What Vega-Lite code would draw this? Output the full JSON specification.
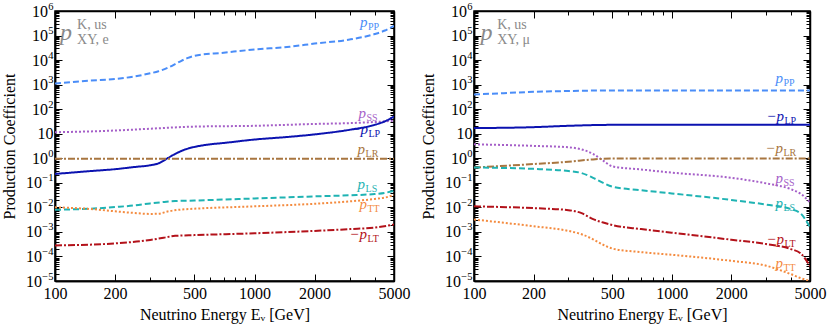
{
  "$schema": "https://vega.github.io/schema/vega-lite/v6.json",
  "background": "white",
  "padding": {"left": 0, "top": 0, "right": 0, "bottom": 5},
  "datasets": {
    "lines": [
      {"p":"e","k":"PP","E":100,"v":1100},{"p":"e","k":"PP","E":150,"v":1450},{"p":"e","k":"PP","E":200,"v":1700},{"p":"e","k":"PP","E":250,"v":2150},{"p":"e","k":"PP","E":300,"v":2900},{"p":"e","k":"PP","E":330,"v":3500},{"p":"e","k":"PP","E":370,"v":5000},{"p":"e","k":"PP","E":420,"v":8500},{"p":"e","k":"PP","E":460,"v":12000},{"p":"e","k":"PP","E":500,"v":15000},{"p":"e","k":"PP","E":700,"v":20000},{"p":"e","k":"PP","E":1000,"v":27000},{"p":"e","k":"PP","E":1500,"v":35000},{"p":"e","k":"PP","E":2000,"v":47000},{"p":"e","k":"PP","E":3000,"v":69000},{"p":"e","k":"PP","E":4000,"v":115000},{"p":"e","k":"PP","E":4500,"v":160000},{"p":"e","k":"PP","E":5000,"v":250000},
      {"p":"e","k":"SS","E":100,"v":11.5},{"p":"e","k":"SS","E":200,"v":13.5},{"p":"e","k":"SS","E":300,"v":16},{"p":"e","k":"SS","E":500,"v":19.5},{"p":"e","k":"SS","E":1000,"v":21},{"p":"e","k":"SS","E":2000,"v":25},{"p":"e","k":"SS","E":3000,"v":27},{"p":"e","k":"SS","E":4000,"v":30},{"p":"e","k":"SS","E":5000,"v":34},
      {"p":"e","k":"LP","E":100,"v":0.23},{"p":"e","k":"LP","E":150,"v":0.3},{"p":"e","k":"LP","E":200,"v":0.36},{"p":"e","k":"LP","E":250,"v":0.44},{"p":"e","k":"LP","E":300,"v":0.52},{"p":"e","k":"LP","E":330,"v":0.62},{"p":"e","k":"LP","E":370,"v":1.05},{"p":"e","k":"LP","E":400,"v":1.5},{"p":"e","k":"LP","E":450,"v":2.3},{"p":"e","k":"LP","E":500,"v":2.9},{"p":"e","k":"LP","E":600,"v":3.7},{"p":"e","k":"LP","E":700,"v":4.2},{"p":"e","k":"LP","E":1000,"v":5.8},{"p":"e","k":"LP","E":1500,"v":7.5},{"p":"e","k":"LP","E":2000,"v":9.4},{"p":"e","k":"LP","E":3000,"v":14.5},{"p":"e","k":"LP","E":4000,"v":23},{"p":"e","k":"LP","E":4500,"v":32},{"p":"e","k":"LP","E":5000,"v":50},
      {"p":"e","k":"LR","E":100,"v":0.95},{"p":"e","k":"LR","E":1000,"v":0.95},{"p":"e","k":"LR","E":5000,"v":0.95},
      {"p":"e","k":"LS","E":100,"v":0.008},{"p":"e","k":"LS","E":150,"v":0.0088},{"p":"e","k":"LS","E":200,"v":0.0103},{"p":"e","k":"LS","E":250,"v":0.012},{"p":"e","k":"LS","E":300,"v":0.0145},{"p":"e","k":"LS","E":350,"v":0.0165},{"p":"e","k":"LS","E":400,"v":0.018},{"p":"e","k":"LS","E":500,"v":0.019},{"p":"e","k":"LS","E":1000,"v":0.023},{"p":"e","k":"LS","E":2000,"v":0.028},{"p":"e","k":"LS","E":3000,"v":0.031},{"p":"e","k":"LS","E":4000,"v":0.035},{"p":"e","k":"LS","E":4500,"v":0.039},{"p":"e","k":"LS","E":5000,"v":0.047},
      {"p":"e","k":"TT","E":100,"v":0.01},{"p":"e","k":"TT","E":150,"v":0.0086},{"p":"e","k":"TT","E":200,"v":0.0069},{"p":"e","k":"TT","E":250,"v":0.0059},{"p":"e","k":"TT","E":300,"v":0.0054},{"p":"e","k":"TT","E":330,"v":0.0055},{"p":"e","k":"TT","E":370,"v":0.0069},{"p":"e","k":"TT","E":420,"v":0.008},{"p":"e","k":"TT","E":500,"v":0.0088},{"p":"e","k":"TT","E":1000,"v":0.011},{"p":"e","k":"TT","E":2000,"v":0.014},{"p":"e","k":"TT","E":3000,"v":0.0175},{"p":"e","k":"TT","E":4000,"v":0.022},{"p":"e","k":"TT","E":4500,"v":0.025},{"p":"e","k":"TT","E":5000,"v":0.032},
      {"p":"e","k":"LT","E":100,"v":0.00028},{"p":"e","k":"LT","E":200,"v":0.00034},{"p":"e","k":"LT","E":300,"v":0.00047},{"p":"e","k":"LT","E":350,"v":0.00058},{"p":"e","k":"LT","E":400,"v":0.00069},{"p":"e","k":"LT","E":500,"v":0.00074},{"p":"e","k":"LT","E":1000,"v":0.00088},{"p":"e","k":"LT","E":2000,"v":0.0011},{"p":"e","k":"LT","E":3000,"v":0.0013},{"p":"e","k":"LT","E":4000,"v":0.0015},{"p":"e","k":"LT","E":5000,"v":0.002},
      {"p":"mu","k":"PP","E":100,"v":400},{"p":"mu","k":"PP","E":150,"v":460},{"p":"mu","k":"PP","E":200,"v":510},{"p":"mu","k":"PP","E":300,"v":550},{"p":"mu","k":"PP","E":500,"v":580},{"p":"mu","k":"PP","E":1000,"v":580},{"p":"mu","k":"PP","E":2000,"v":575},{"p":"mu","k":"PP","E":5000,"v":575},
      {"p":"mu","k":"LP","E":100,"v":17},{"p":"mu","k":"LP","E":200,"v":18.5},{"p":"mu","k":"LP","E":300,"v":21},{"p":"mu","k":"LP","E":500,"v":23},{"p":"mu","k":"LP","E":1000,"v":23},{"p":"mu","k":"LP","E":2000,"v":23},{"p":"mu","k":"LP","E":5000,"v":23},
      {"p":"mu","k":"SS","E":100,"v":3.7},{"p":"mu","k":"SS","E":200,"v":3.2},{"p":"mu","k":"SS","E":300,"v":2.8},{"p":"mu","k":"SS","E":350,"v":2.3},{"p":"mu","k":"SS","E":400,"v":1.5},{"p":"mu","k":"SS","E":450,"v":0.8},{"p":"mu","k":"SS","E":500,"v":0.47},{"p":"mu","k":"SS","E":700,"v":0.35},{"p":"mu","k":"SS","E":1000,"v":0.26},{"p":"mu","k":"SS","E":2000,"v":0.16},{"p":"mu","k":"SS","E":3000,"v":0.095},{"p":"mu","k":"SS","E":4000,"v":0.055},{"p":"mu","k":"SS","E":4500,"v":0.035},{"p":"mu","k":"SS","E":5000,"v":0.016},
      {"p":"mu","k":"LR","E":100,"v":0.42},{"p":"mu","k":"LR","E":200,"v":0.58},{"p":"mu","k":"LR","E":300,"v":0.72},{"p":"mu","k":"LR","E":400,"v":0.9},{"p":"mu","k":"LR","E":500,"v":0.97},{"p":"mu","k":"LR","E":1000,"v":0.97},{"p":"mu","k":"LR","E":5000,"v":0.97},
      {"p":"mu","k":"LS","E":100,"v":0.42},{"p":"mu","k":"LS","E":200,"v":0.37},{"p":"mu","k":"LS","E":300,"v":0.3},{"p":"mu","k":"LS","E":350,"v":0.25},{"p":"mu","k":"LS","E":400,"v":0.16},{"p":"mu","k":"LS","E":450,"v":0.1},{"p":"mu","k":"LS","E":500,"v":0.07},{"p":"mu","k":"LS","E":700,"v":0.05},{"p":"mu","k":"LS","E":1000,"v":0.037},{"p":"mu","k":"LS","E":2000,"v":0.02},{"p":"mu","k":"LS","E":3000,"v":0.013},{"p":"mu","k":"LS","E":4000,"v":0.0085},{"p":"mu","k":"LS","E":4500,"v":0.0055},{"p":"mu","k":"LS","E":5000,"v":0.0015},
      {"p":"mu","k":"LT","E":100,"v":0.011},{"p":"mu","k":"LT","E":200,"v":0.0093},{"p":"mu","k":"LT","E":300,"v":0.0077},{"p":"mu","k":"LT","E":350,"v":0.0058},{"p":"mu","k":"LT","E":400,"v":0.0033},{"p":"mu","k":"LT","E":450,"v":0.0024},{"p":"mu","k":"LT","E":500,"v":0.0019},{"p":"mu","k":"LT","E":700,"v":0.0013},{"p":"mu","k":"LT","E":1000,"v":0.00093},{"p":"mu","k":"LT","E":2000,"v":0.00048},{"p":"mu","k":"LT","E":3000,"v":0.00032},{"p":"mu","k":"LT","E":4000,"v":0.0002},{"p":"mu","k":"LT","E":4500,"v":0.00013},{"p":"mu","k":"LT","E":5000,"v":0.00004},
      {"p":"mu","k":"TT","E":100,"v":0.0032},{"p":"mu","k":"TT","E":200,"v":0.0017},{"p":"mu","k":"TT","E":300,"v":0.0011},{"p":"mu","k":"TT","E":350,"v":0.0008},{"p":"mu","k":"TT","E":400,"v":0.0005},{"p":"mu","k":"TT","E":450,"v":0.0003},{"p":"mu","k":"TT","E":500,"v":0.00021},{"p":"mu","k":"TT","E":700,"v":0.00015},{"p":"mu","k":"TT","E":1000,"v":0.000117},{"p":"mu","k":"TT","E":2000,"v":0.000066},{"p":"mu","k":"TT","E":3000,"v":0.000042},{"p":"mu","k":"TT","E":4000,"v":0.000019},{"p":"mu","k":"TT","E":4500,"v":0.000013},{"p":"mu","k":"TT","E":5000,"v":0.00001}
    ],
    "labels": [
      {"p":"e","k":"PP","E":3680,"v":216000,"pre":"p","sub":"PP"},
      {"p":"e","k":"SS","E":3620,"v":45.8,"pre":"p","sub":"SS"},
      {"p":"e","k":"LP","E":3700,"v":9.55,"pre":"−p","sub":"LP"},
      {"p":"e","k":"LR","E":3580,"v":1.56,"pre":"p","sub":"LR"},
      {"p":"e","k":"LS","E":3580,"v":0.058,"pre":"p","sub":"LS"},
      {"p":"e","k":"TT","E":3660,"v":0.00885,"pre":"p","sub":"TT"},
      {"p":"e","k":"LT","E":3660,"v":0.000527,"pre":"−p","sub":"LT"},
      {"p":"mu","k":"PP","E":3650,"v":1186,"pre":"p","sub":"PP"},
      {"p":"mu","k":"LP","E":3690,"v":33.3,"pre":"−p","sub":"LP"},
      {"p":"mu","k":"LR","E":3650,"v":1.64,"pre":"−p","sub":"LR"},
      {"p":"mu","k":"SS","E":3650,"v":0.0955,"pre":"p","sub":"SS"},
      {"p":"mu","k":"LS","E":3650,"v":0.00977,"pre":"p","sub":"LS"},
      {"p":"mu","k":"LT","E":3690,"v":0.000331,"pre":"−p","sub":"LT"},
      {"p":"mu","k":"TT","E":3650,"v":0.0000347,"pre":"p","sub":"TT"}
    ],
    "notes": [
      {"p":"e","role":"main","E":106,"v":65000,"t":"p"},
      {"p":"e","role":"small","E":129,"v":180000,"t":"K, us"},
      {"p":"e","role":"small","E":129,"v":44000,"t":"XY, e"},
      {"p":"mu","role":"main","E":108,"v":65000,"t":"p"},
      {"p":"mu","role":"small","E":131,"v":180000,"t":"K, us"},
      {"p":"mu","role":"small","E":131,"v":44000,"t":"XY, μ"}
    ]
  },
  "hconcat": [
    {
      "width": 339, "height": 270,
      "layer": [
        {
          "data": {"name": "lines"},
          "transform": [{"filter": "datum.p == 'e'"}],
          "mark": {"type": "line", "strokeWidth": 2, "clip": true, "interpolate": "monotone"},
          "encoding": {
            "x": {"field": "E", "type": "quantitative", "scale": {"type": "log", "domain": [100, 5000], "nice": false},
              "axis": {"orient": "bottom", "title": "Neutrino Energy Eᵥ [GeV]", "values": [100,200,500,1000,2000,5000], "format": "d",
                "ticks": false, "grid": false, "labelPadding": 4, "titlePadding": 5}},
            "y": {"field": "v", "type": "quantitative", "scale": {"type": "log", "domain": [0.00001, 1000000], "nice": false},
              "axis": {"orient": "left", "title": null, "values": [1,100,1000,10000,100000,1000000], "labelExpr": "'10'",
                "ticks": false, "grid": false, "labelPadding": 7.5}},
            "color": {"field": "k", "type": "nominal", "scale": {"domain": ["PP","SS","LP","LR","LS","TT","LT"], "range": ["#4a8df8","#a55fc8","#0b12b0","#a87640","#1fb3b3","#f48b3f","#b3121a"]}, "legend": null},
            "strokeDash": {"field": "k", "type": "nominal", "scale": {"domain": ["PP","SS","LP","LR","LS","TT","LT"], "range": [[6,3],[2,2],[1,0],[7,2,2,2],[6,3],[2,2],[7,2,2,2]]}, "legend": null}
          }
        },
        {
          "data": {"name": "labels"},
          "transform": [{"filter": "datum.p == 'e'"}],
          "mark": {"type": "text", "align": "right", "baseline": "alphabetic", "font": "Liberation Serif", "fontStyle": "italic", "fontSize": 15},
          "encoding": {
            "x": {"field": "E", "type": "quantitative", "scale": {"type": "log"},
              "axis": {"orient": "top", "title": null, "labels": false, "grid": false, "values": [100,200,300,400,500,600,700,800,900,1000,2000,3000,4000,5000],
                "tickSize": {"condition": {"test": "indexof([100,200,500,1000,2000,5000], datum.value) >= 0", "value": -7}, "value": -4}}},
            "y": {"field": "v", "type": "quantitative", "scale": {"type": "log"},
              "axis": {"orient": "right", "title": null, "labels": false, "grid": false,
                "values": [0.00001,0.00002,0.00003,0.00004,0.00005,0.00006,0.00007,0.00008,0.00009,0.0001,0.0002,0.0003,0.0004,0.0005,0.0006,0.0007,0.0008,0.0009,0.001,0.002,0.003,0.004,0.005,0.006,0.007,0.008,0.009,0.01,0.02,0.03,0.04,0.05,0.06,0.07,0.08,0.09,0.1,0.2,0.3,0.4,0.5,0.6,0.7,0.8,0.9,1,2,3,4,5,6,7,8,9,10,20,30,40,50,60,70,80,90,100,200,300,400,500,600,700,800,900,1000,2000,3000,4000,5000,6000,7000,8000,9000,10000,20000,30000,40000,50000,60000,70000,80000,90000,100000,200000,300000,400000,500000,600000,700000,800000,900000,1000000],
                "tickSize": {"condition": {"test": "abs(log(datum.value)/LN10 - round(log(datum.value)/LN10)) < 0.001", "value": -7}, "value": -4}}},
            "text": {"field": "pre"},
            "color": {"field": "k", "type": "nominal", "scale": {"domain": ["PP","SS","LP","LR","LS","TT","LT"], "range": ["#4a8df8","#a55fc8","#0b12b0","#a87640","#1fb3b3","#f48b3f","#b3121a"]}, "legend": null}
          }
        },
        {
          "data": {"name": "labels"},
          "transform": [{"filter": "datum.p == 'e'"}],
          "mark": {"type": "text", "align": "left", "baseline": "alphabetic", "font": "Liberation Serif", "fontSize": 10, "dy": 3, "dx": 0.5},
          "encoding": {
            "x": {"field": "E", "type": "quantitative", "scale": {"type": "log"},
              "axis": {"orient": "bottom", "title": null, "labels": false, "values": [100,200,300,400,500,600,700,800,900,1000,2000,3000,4000,5000],
                "tickSize": {"condition": {"test": "indexof([100,200,500,1000,2000,5000], datum.value) >= 0", "value": -7}, "value": -4},
                "gridOpacity": {"condition": {"test": "indexof([100,200,500,1000,2000,5000], datum.value) >= 0", "value": 1}, "value": 0}}},
            "y": {"field": "v", "type": "quantitative", "scale": {"type": "log"},
              "axis": {"orient": "left", "title": null, "labels": false,
                "values": [0.00001,0.00002,0.00003,0.00004,0.00005,0.00006,0.00007,0.00008,0.00009,0.0001,0.0002,0.0003,0.0004,0.0005,0.0006,0.0007,0.0008,0.0009,0.001,0.002,0.003,0.004,0.005,0.006,0.007,0.008,0.009,0.01,0.02,0.03,0.04,0.05,0.06,0.07,0.08,0.09,0.1,0.2,0.3,0.4,0.5,0.6,0.7,0.8,0.9,1,2,3,4,5,6,7,8,9,10,20,30,40,50,60,70,80,90,100,200,300,400,500,600,700,800,900,1000,2000,3000,4000,5000,6000,7000,8000,9000,10000,20000,30000,40000,50000,60000,70000,80000,90000,100000,200000,300000,400000,500000,600000,700000,800000,900000,1000000],
                "tickSize": {"condition": {"test": "abs(log(datum.value)/LN10 - round(log(datum.value)/LN10)) < 0.001", "value": -7}, "value": -4},
                "gridOpacity": {"condition": {"test": "abs(log(datum.value)/LN10 - round(log(datum.value)/LN10)) < 0.001", "value": 1}, "value": 0}}},
            "text": {"field": "sub"},
            "color": {"field": "k", "type": "nominal", "scale": {"domain": ["PP","SS","LP","LR","LS","TT","LT"], "range": ["#4a8df8","#a55fc8","#0b12b0","#a87640","#1fb3b3","#f48b3f","#b3121a"]}, "legend": null}
          }
        },
        {
          "data": {"name": "notes"},
          "transform": [{"filter": "datum.p == 'e' && datum.role == 'main'"}],
          "mark": {"type": "text", "align": "left", "baseline": "alphabetic", "font": "Liberation Serif", "fontStyle": "italic", "fontSize": 24, "color": "#8a8a8a"},
          "encoding": {
            "x": {"field": "E", "type": "quantitative", "scale": {"type": "log"}, "axis": null},
            "y": {"field": "v", "type": "quantitative", "scale": {"type": "log"},
              "axis": {"orient": "left", "title": "Production Coefficient", "values": [0.00001,0.0001,0.001,0.01,0.1], "labelExpr": "'10'",
                "ticks": false, "grid": false, "domain": false, "labelPadding": 13.5, "titlePadding": 8}},
            "text": {"field": "t"}
          }
        },
        {
          "data": {"name": "notes"},
          "transform": [{"filter": "datum.p == 'e' && datum.role == 'small'"}],
          "mark": {"type": "text", "align": "left", "baseline": "alphabetic", "font": "Liberation Serif", "fontSize": 14, "color": "#8a8a8a"},
          "encoding": {
            "x": {"field": "E", "type": "quantitative", "scale": {"type": "log"}, "axis": null},
            "y": {"field": "v", "type": "quantitative", "scale": {"type": "log"},
              "axis": {"orient": "left", "title": null, "values": [10], "labelExpr": "'10'",
                "ticks": false, "grid": false, "domain": false, "labelPadding": 2}},
            "text": {"field": "t"}
          }
        },
        {
          "data": {"name": "notes"},
          "transform": [{"filter": "datum.p == 'e'"}],
          "mark": {"type": "point", "opacity": 0},
          "encoding": {
            "x": {"field": "E", "type": "quantitative", "scale": {"type": "log"}, "axis": null},
            "y": {"field": "v", "type": "quantitative", "scale": {"type": "log"},
              "axis": {"orient": "left", "title": null, "values": [0.00001,0.0001,0.001,0.01,0.1,1,100,1000,10000,100000,1000000],
                "labelExpr": "(datum.value < 1 ? '−' : '') + format(abs(round(log(datum.value)/LN10)), 'd')",
                "labelFontSize": 10.5, "labelOffset": -5, "ticks": false, "grid": false, "domain": false, "labelPadding": 2}}
          }
        }
      ],
      "resolve": {"axis": {"x": "independent", "y": "independent"}}
    },
    {
      "width": 336, "height": 270,
      "layer": [
        {
          "data": {"name": "lines"},
          "transform": [{"filter": "datum.p == 'mu'"}],
          "mark": {"type": "line", "strokeWidth": 2, "clip": true, "interpolate": "monotone"},
          "encoding": {
            "x": {"field": "E", "type": "quantitative", "scale": {"type": "log", "domain": [100, 5000], "nice": false},
              "axis": {"orient": "bottom", "title": "Neutrino Energy Eᵥ [GeV]", "values": [100,200,500,1000,2000,5000], "format": "d",
                "ticks": false, "grid": false, "labelPadding": 4, "titlePadding": 5}},
            "y": {"field": "v", "type": "quantitative", "scale": {"type": "log", "domain": [0.00001, 1000000], "nice": false},
              "axis": {"orient": "left", "title": null, "values": [1,100,1000,10000,100000,1000000], "labelExpr": "'10'",
                "ticks": false, "grid": false, "labelPadding": 7.5}},
            "color": {"field": "k", "type": "nominal", "scale": {"domain": ["PP","SS","LP","LR","LS","TT","LT"], "range": ["#4a8df8","#a55fc8","#0b12b0","#a87640","#1fb3b3","#f48b3f","#b3121a"]}, "legend": null},
            "strokeDash": {"field": "k", "type": "nominal", "scale": {"domain": ["PP","SS","LP","LR","LS","TT","LT"], "range": [[6,3],[2,2],[1,0],[7,2,2,2],[6,3],[2,2],[7,2,2,2]]}, "legend": null}
          }
        },
        {
          "data": {"name": "labels"},
          "transform": [{"filter": "datum.p == 'mu'"}],
          "mark": {"type": "text", "align": "right", "baseline": "alphabetic", "font": "Liberation Serif", "fontStyle": "italic", "fontSize": 15},
          "encoding": {
            "x": {"field": "E", "type": "quantitative", "scale": {"type": "log"},
              "axis": {"orient": "top", "title": null, "labels": false, "grid": false, "values": [100,200,300,400,500,600,700,800,900,1000,2000,3000,4000,5000],
                "tickSize": {"condition": {"test": "indexof([100,200,500,1000,2000,5000], datum.value) >= 0", "value": -7}, "value": -4}}},
            "y": {"field": "v", "type": "quantitative", "scale": {"type": "log"},
              "axis": {"orient": "right", "title": null, "labels": false, "grid": false,
                "values": [0.00001,0.00002,0.00003,0.00004,0.00005,0.00006,0.00007,0.00008,0.00009,0.0001,0.0002,0.0003,0.0004,0.0005,0.0006,0.0007,0.0008,0.0009,0.001,0.002,0.003,0.004,0.005,0.006,0.007,0.008,0.009,0.01,0.02,0.03,0.04,0.05,0.06,0.07,0.08,0.09,0.1,0.2,0.3,0.4,0.5,0.6,0.7,0.8,0.9,1,2,3,4,5,6,7,8,9,10,20,30,40,50,60,70,80,90,100,200,300,400,500,600,700,800,900,1000,2000,3000,4000,5000,6000,7000,8000,9000,10000,20000,30000,40000,50000,60000,70000,80000,90000,100000,200000,300000,400000,500000,600000,700000,800000,900000,1000000],
                "tickSize": {"condition": {"test": "abs(log(datum.value)/LN10 - round(log(datum.value)/LN10)) < 0.001", "value": -7}, "value": -4}}},
            "text": {"field": "pre"},
            "color": {"field": "k", "type": "nominal", "scale": {"domain": ["PP","SS","LP","LR","LS","TT","LT"], "range": ["#4a8df8","#a55fc8","#0b12b0","#a87640","#1fb3b3","#f48b3f","#b3121a"]}, "legend": null}
          }
        },
        {
          "data": {"name": "labels"},
          "transform": [{"filter": "datum.p == 'mu'"}],
          "mark": {"type": "text", "align": "left", "baseline": "alphabetic", "font": "Liberation Serif", "fontSize": 10, "dy": 3, "dx": 0.5},
          "encoding": {
            "x": {"field": "E", "type": "quantitative", "scale": {"type": "log"},
              "axis": {"orient": "bottom", "title": null, "labels": false, "values": [100,200,300,400,500,600,700,800,900,1000,2000,3000,4000,5000],
                "tickSize": {"condition": {"test": "indexof([100,200,500,1000,2000,5000], datum.value) >= 0", "value": -7}, "value": -4},
                "gridOpacity": {"condition": {"test": "indexof([100,200,500,1000,2000,5000], datum.value) >= 0", "value": 1}, "value": 0}}},
            "y": {"field": "v", "type": "quantitative", "scale": {"type": "log"},
              "axis": {"orient": "left", "title": null, "labels": false,
                "values": [0.00001,0.00002,0.00003,0.00004,0.00005,0.00006,0.00007,0.00008,0.00009,0.0001,0.0002,0.0003,0.0004,0.0005,0.0006,0.0007,0.0008,0.0009,0.001,0.002,0.003,0.004,0.005,0.006,0.007,0.008,0.009,0.01,0.02,0.03,0.04,0.05,0.06,0.07,0.08,0.09,0.1,0.2,0.3,0.4,0.5,0.6,0.7,0.8,0.9,1,2,3,4,5,6,7,8,9,10,20,30,40,50,60,70,80,90,100,200,300,400,500,600,700,800,900,1000,2000,3000,4000,5000,6000,7000,8000,9000,10000,20000,30000,40000,50000,60000,70000,80000,90000,100000,200000,300000,400000,500000,600000,700000,800000,900000,1000000],
                "tickSize": {"condition": {"test": "abs(log(datum.value)/LN10 - round(log(datum.value)/LN10)) < 0.001", "value": -7}, "value": -4},
                "gridOpacity": {"condition": {"test": "abs(log(datum.value)/LN10 - round(log(datum.value)/LN10)) < 0.001", "value": 1}, "value": 0}}},
            "text": {"field": "sub"},
            "color": {"field": "k", "type": "nominal", "scale": {"domain": ["PP","SS","LP","LR","LS","TT","LT"], "range": ["#4a8df8","#a55fc8","#0b12b0","#a87640","#1fb3b3","#f48b3f","#b3121a"]}, "legend": null}
          }
        },
        {
          "data": {"name": "notes"},
          "transform": [{"filter": "datum.p == 'mu' && datum.role == 'main'"}],
          "mark": {"type": "text", "align": "left", "baseline": "alphabetic", "font": "Liberation Serif", "fontStyle": "italic", "fontSize": 24, "color": "#8a8a8a"},
          "encoding": {
            "x": {"field": "E", "type": "quantitative", "scale": {"type": "log"}, "axis": null},
            "y": {"field": "v", "type": "quantitative", "scale": {"type": "log"},
              "axis": {"orient": "left", "title": "Production Coefficient", "values": [0.00001,0.0001,0.001,0.01,0.1], "labelExpr": "'10'",
                "ticks": false, "grid": false, "domain": false, "labelPadding": 13.5, "titlePadding": 8}},
            "text": {"field": "t"}
          }
        },
        {
          "data": {"name": "notes"},
          "transform": [{"filter": "datum.p == 'mu' && datum.role == 'small'"}],
          "mark": {"type": "text", "align": "left", "baseline": "alphabetic", "font": "Liberation Serif", "fontSize": 14, "color": "#8a8a8a"},
          "encoding": {
            "x": {"field": "E", "type": "quantitative", "scale": {"type": "log"}, "axis": null},
            "y": {"field": "v", "type": "quantitative", "scale": {"type": "log"},
              "axis": {"orient": "left", "title": null, "values": [10], "labelExpr": "'10'",
                "ticks": false, "grid": false, "domain": false, "labelPadding": 2}},
            "text": {"field": "t"}
          }
        },
        {
          "data": {"name": "notes"},
          "transform": [{"filter": "datum.p == 'mu'"}],
          "mark": {"type": "point", "opacity": 0},
          "encoding": {
            "x": {"field": "E", "type": "quantitative", "scale": {"type": "log"}, "axis": null},
            "y": {"field": "v", "type": "quantitative", "scale": {"type": "log"},
              "axis": {"orient": "left", "title": null, "values": [0.00001,0.0001,0.001,0.01,0.1,1,100,1000,10000,100000,1000000],
                "labelExpr": "(datum.value < 1 ? '−' : '') + format(abs(round(log(datum.value)/LN10)), 'd')",
                "labelFontSize": 10.5, "labelOffset": -5, "ticks": false, "grid": false, "domain": false, "labelPadding": 2}}
          }
        }
      ],
      "resolve": {"axis": {"x": "independent", "y": "independent"}}
    }
  ],
  "spacing": 8,
  "config": {
    "font": "Liberation Serif",
    "view": {"stroke": "black", "strokeWidth": 1.5},
    "axis": {
      "labelFont": "Liberation Serif", "titleFont": "Liberation Serif",
      "labelFontSize": 16, "titleFontSize": 16, "titleFontWeight": "normal",
      "labelColor": "black", "titleColor": "black",
      "domainColor": "black", "domainWidth": 1.5, "tickColor": "black", "tickWidth": 1,
      "gridColor": "#e2e2e2", "gridWidth": 1,
      "labelFlush": false, "labelOverlap": false, "labelBound": false
    }
  }
}
